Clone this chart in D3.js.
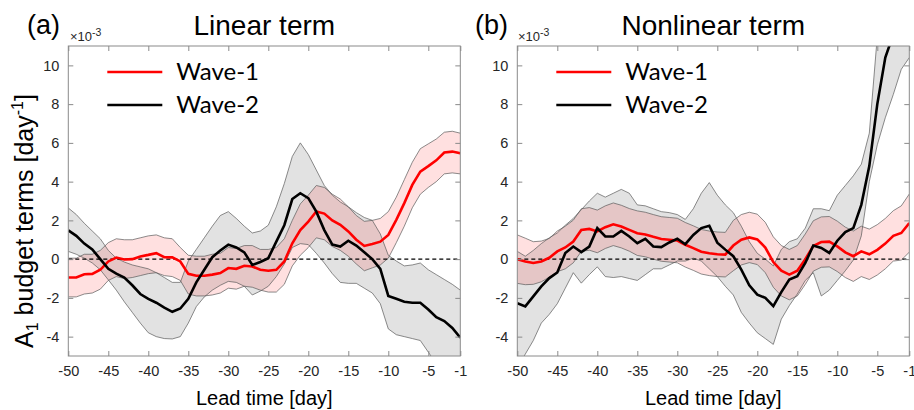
<!DOCTYPE html>
<html>
<head>
<meta charset="utf-8">
<script src="https://cdn.jsdelivr.net/npm/d3@7"></script>
<style>
  body { margin: 0; background: #fff; }
  svg { display: block; }
</style>
</head>
<body>
<main></main>
<script>
// lead days -50 .. -1
var days = d3.range(-50, 0);
var xTicks = [-50, -45, -40, -35, -30, -25, -20, -15, -10, -5, -1];
var yTicks = [-4, -2, 0, 2, 4, 6, 8, 10];
var seriesNames = ['Wave-1', 'Wave-2'];

// (a) linear term, units of 1e-3 day^-1
var linW1   = [-0.95,-0.95,-0.78,-0.76,-0.55,-0.12,0.08,-0.02,0.0,0.14,0.22,0.31,0.1,0.09,-0.12,-0.76,-0.86,-0.86,-0.8,-0.72,-0.46,-0.5,-0.34,-0.38,-0.55,-0.6,-0.55,-0.12,0.82,1.5,1.94,2.46,2.35,2.0,1.77,1.43,1.0,0.68,0.78,0.9,1.25,2.03,2.89,3.83,4.52,4.8,5.1,5.5,5.55,5.46];
var linW1Lo = [-1.95,-1.95,-1.8,-1.75,-1.55,-1.1,-0.9,-1.0,-0.95,-0.85,-0.75,-0.7,-0.85,-0.9,-1.1,-1.8,-1.9,-1.9,-1.85,-1.75,-1.5,-1.55,-1.4,-1.45,-1.6,-1.7,-1.7,-1.3,-0.35,0.2,0.6,1.1,1.0,0.65,0.45,0.15,-0.25,-0.6,-0.45,-0.3,0.05,0.85,1.7,2.65,3.35,3.7,4.0,4.4,4.45,4.4];
var linW1Hi = [0.05,0.05,0.25,0.25,0.45,0.85,1.05,1.0,1.0,1.1,1.2,1.25,1.1,1.05,0.6,0.2,0.15,0.15,0.25,0.3,0.6,0.55,0.7,0.7,0.5,0.5,0.6,1.05,2.0,2.85,3.3,3.8,3.7,3.35,3.1,2.7,2.25,1.95,2.0,2.1,2.45,3.2,4.1,5.0,5.7,5.95,6.2,6.55,6.6,6.5];
var linW2   = [1.48,1.2,0.8,0.5,0.0,-0.5,-0.75,-0.95,-1.35,-1.8,-2.05,-2.25,-2.5,-2.72,-2.55,-2.05,-1.2,-0.55,0.1,0.45,0.75,0.6,0.35,-0.3,-0.15,0.05,0.9,1.75,3.1,3.4,3.15,2.45,1.5,0.75,0.65,0.95,0.7,0.35,0.0,-0.5,-1.9,-2.05,-2.2,-2.25,-2.25,-2.6,-3.0,-3.2,-3.55,-4.05];
var linW2Lo = [0.4,0.25,0.05,-0.2,-0.55,-1.07,-1.6,-2.2,-2.75,-3.3,-3.8,-4.0,-4.1,-4.12,-4.0,-3.3,-2.45,-1.95,-1.6,-1.35,-1.15,-1.2,-1.4,-1.85,-1.65,-1.4,-0.9,-0.25,0.6,0.8,0.75,0.3,-0.2,-0.75,-1.2,-1.25,-1.25,-1.5,-1.75,-2.3,-3.6,-3.9,-4.0,-4.1,-4.2,-4.8,-5.4,-5.8,-6.2,-6.5];
var linW2Hi = [2.64,2.3,1.85,1.45,1.05,0.45,0.05,-0.15,-0.3,-0.4,-0.5,-0.7,-0.95,-1.2,-1.2,-0.1,0.5,1.1,1.7,2.25,2.45,2.1,1.7,1.35,1.45,1.75,2.7,3.9,5.3,6.0,5.4,4.6,3.8,3.3,2.95,2.7,2.4,2.15,2.0,1.3,0.2,-0.1,-0.35,-0.3,-0.2,-0.55,-0.8,-1.05,-1.3,-1.6];

// (b) nonlinear term
var nonW1   = [0.0,-0.12,-0.2,-0.12,0.07,0.4,0.6,0.91,1.5,1.56,1.43,1.65,1.8,1.68,1.51,1.34,1.27,1.15,1.04,1.0,0.96,0.74,0.57,0.38,0.3,0.25,0.23,0.7,1.0,1.12,1.02,0.6,-0.15,-0.6,-0.8,-0.6,0.0,0.68,0.88,0.9,0.66,0.35,0.15,0.4,0.25,0.48,0.8,1.2,1.35,1.86];
var nonW1Lo = [-1.25,-1.32,-1.3,-1.17,-0.93,-0.65,-0.5,-0.19,0.4,0.46,0.33,0.55,0.7,0.58,0.41,0.19,0.12,0.0,-0.11,-0.15,-0.19,-0.41,-0.58,-0.77,-0.85,-0.9,-0.92,-0.6,-0.3,-0.18,-0.28,-0.7,-1.45,-1.9,-2.1,-1.9,-1.3,-0.62,-0.42,-0.4,-0.64,-0.95,-1.15,-0.9,-1.05,-0.82,-0.5,-0.1,-0.05,0.36];
var nonW1Hi = [1.25,1.08,0.9,0.93,1.07,1.45,1.7,2.01,2.6,2.66,2.53,2.75,2.9,2.78,2.61,2.49,2.42,2.3,2.19,2.15,2.11,1.89,1.72,1.53,1.45,1.4,1.38,2.0,2.3,2.42,2.32,1.9,1.15,0.7,0.5,0.7,1.3,1.98,2.18,2.2,1.96,1.65,1.45,1.7,1.55,1.78,2.1,2.5,2.75,3.36];
var nonW2   = [-2.27,-2.44,-1.92,-1.41,-0.98,-0.69,0.31,0.65,0.36,0.65,1.6,1.17,1.17,1.46,1.17,0.82,1.05,0.65,0.62,0.86,1.05,0.77,1.25,1.6,1.72,0.85,0.49,0.15,-0.54,-1.35,-1.83,-2.0,-2.43,-1.7,-1.05,-0.88,-0.2,0.7,0.58,0.32,0.95,1.4,1.6,2.8,4.8,8.0,10.4,11.6,12.9,14.2];
var nonW2Lo = [-5.6,-4.9,-4.2,-3.3,-2.85,-2.3,-1.5,-0.7,-1.24,-0.8,-0.4,-0.9,-0.95,-0.9,-1.0,-1.1,-0.8,-0.5,-0.5,-0.3,-0.1,-0.1,0.05,-0.1,-0.5,-0.9,-1.4,-1.85,-2.75,-3.3,-3.8,-4.1,-4.4,-3.1,-2.4,-1.8,-1.1,-0.7,-1.9,-1.6,-1.1,-0.6,-0.05,1.2,4.0,5.9,7.3,8.5,9.8,10.4];
var nonW2Hi = [0.4,0.15,0.45,0.8,1.1,1.35,1.75,2.1,2.55,3.0,3.4,3.2,3.4,3.6,3.4,2.8,2.75,2.6,2.45,2.4,2.3,2.05,2.6,3.4,3.95,3.3,2.8,2.4,1.7,0.9,0.3,0.0,-0.35,0.5,0.9,1.05,1.6,2.6,2.6,2.5,3.3,3.8,4.3,4.9,6.5,11.5,14,16,18,20];

var W = 914, H = 410;
var plotTop = 46, plotBottom = 356;
var font = "'Liberation Sans', Arial, sans-serif";
var plain = function(d) { return String(d); };

var svg = d3.select('main').append('svg')
    .attr('width', W)
    .attr('height', H);

var yScale = d3.scaleLinear().domain([-5, 11]).range([plotBottom, plotTop]);

var panels = [
    { id: 'a', left: 68.3, right: 460.3, title: 'Linear term', tag: '(a)', tagX: 27, sciX: 70,
      w1: linW1, w1Lo: linW1Lo, w1Hi: linW1Hi, w2: linW2, w2Lo: linW2Lo, w2Hi: linW2Hi },
    { id: 'b', left: 517.3, right: 909.3, title: 'Nonlinear term', tag: '(b)', tagX: 475, sciX: 518,
      w1: nonW1, w1Lo: nonW1Lo, w1Hi: nonW1Hi, w2: nonW2, w2Lo: nonW2Lo, w2Hi: nonW2Hi }
];

panels.forEach(function(p) {
    var xScale = d3.scaleLinear().domain([-50, -1]).range([p.left, p.right]);
    var g = svg.append('g');

    g.append('clipPath').attr('id', 'clip-' + p.id)
        .append('rect')
        .attr('x', p.left).attr('y', plotTop)
        .attr('width', p.right - p.left).attr('height', plotBottom - plotTop);

    var plot = g.append('g').attr('clip-path', 'url(#clip-' + p.id + ')');

    var area = function(lo, hi) {
        return d3.area()
            .x(function(d, i) { return xScale(days[i]); })
            .y0(function(d, i) { return yScale(lo[i]); })
            .y1(function(d, i) { return yScale(hi[i]); })(days);
    };
    var line = function(vals) {
        return d3.line()
            .x(function(d, i) { return xScale(days[i]); })
            .y(function(d) { return yScale(d); })(vals);
    };

    // bands
    plot.append('path').attr('d', area(p.w2Lo, p.w2Hi))
        .attr('fill', 'rgba(128,128,128,0.23)').attr('stroke', 'none');
    plot.append('path').attr('d', area(p.w1Lo, p.w1Hi))
        .attr('fill', 'rgba(255,0,0,0.12)').attr('stroke', 'none');
    [p.w2Lo, p.w2Hi, p.w1Lo, p.w1Hi].forEach(function(b) {
        plot.append('path').attr('d', line(b))
            .attr('fill', 'none').attr('stroke', '#5a5a5a').attr('stroke-width', 0.7);
    });

    // zero line
    plot.append('line')
        .attr('x1', p.left).attr('x2', p.right)
        .attr('y1', yScale(0)).attr('y2', yScale(0))
        .attr('stroke', '#000').attr('stroke-width', 1.2)
        .attr('stroke-dasharray', '4,3');

    plot.append('path').attr('d', line(p.w1))
        .attr('fill', 'none').attr('stroke', '#ff0000').attr('stroke-width', 2.6);
    plot.append('path').attr('d', line(p.w2))
        .attr('fill', 'none').attr('stroke', '#000').attr('stroke-width', 2.6);

    // axes, ticks inward
    g.append('g')
        .attr('transform', 'translate(0,' + plotBottom + ')')
        .call(d3.axisBottom(xScale).tickValues(xTicks).tickFormat(plain)
            .tickSize(-5).tickSizeOuter(0).tickPadding(10));
    g.append('g')
        .attr('transform', 'translate(0,' + plotTop + ')')
        .call(d3.axisTop(xScale).tickValues(xTicks).tickSize(-5).tickSizeOuter(0).tickFormat(''));
    g.append('g')
        .attr('transform', 'translate(' + p.left + ',0)')
        .call(d3.axisLeft(yScale).tickValues(yTicks).tickFormat(plain)
            .tickSize(-5).tickSizeOuter(0).tickPadding(9));
    g.append('g')
        .attr('transform', 'translate(' + p.right + ',0)')
        .call(d3.axisRight(yScale).tickValues(yTicks).tickSize(-5).tickSizeOuter(0).tickFormat(''));

    g.selectAll('.domain').remove();
    g.selectAll('.tick line').attr('stroke', '#8a8a8a');
    g.selectAll('.tick text')
        .attr('fill', '#262626')
        .style('font-family', font)
        .style('font-size', '14.5px');

    g.append('rect')
        .attr('x', p.left).attr('y', plotTop)
        .attr('width', p.right - p.left).attr('height', plotBottom - plotTop)
        .attr('fill', 'none').attr('stroke', '#8a8a8a').attr('stroke-width', 1);

    // titles
    var cx = (p.left + p.right) / 2;
    g.append('text').attr('x', cx).attr('y', 35)
        .attr('text-anchor', 'middle')
        .style('font-family', font).style('font-size', '28px')
        .text(p.title);
    g.append('text').attr('x', p.tagX).attr('y', 34)
        .style('font-family', font).style('font-size', '27px')
        .text(p.tag);
    var sci = g.append('text').attr('x', p.sciX).attr('y', 41)
        .attr('fill', '#262626')
        .style('font-family', font).style('font-size', '13px');
    sci.append('tspan').text('\u00d710');
    sci.append('tspan').attr('dy', -5).style('font-size', '10.5px').text('-3');

    g.append('text').attr('x', cx).attr('y', 405)
        .attr('text-anchor', 'middle')
        .style('font-family', font).style('font-size', '20px')
        .text('Lead time [day]');

    // legend
    var lx = p.left + 39;
    var colors = ['#ff0000', '#000'];
    seriesNames.forEach(function(name, i) {
        var ly = 72 + i * 33;
        g.append('line')
            .attr('x1', lx).attr('x2', lx + 55)
            .attr('y1', ly).attr('y2', ly)
            .attr('stroke', colors[i]).attr('stroke-width', 2.6);
        g.append('text').attr('x', lx + 69).attr('y', ly + 8)
            .style('font-family', "Lato, 'Open Sans', sans-serif").style('font-size', '24px')
            .text(name);
    });
});

// y label
var ylab = svg.append('text')
    .attr('transform', 'translate(33,221) rotate(-90)')
    .attr('text-anchor', 'middle')
    .style('font-family', font).style('font-size', '25px');
ylab.append('tspan').text('A');
ylab.append('tspan').attr('dy', 5).style('font-size', '16px').text('1');
ylab.append('tspan').attr('dy', -5).text(' budget terms [day');
ylab.append('tspan').attr('dy', -10).style('font-size', '16px').text('-1');
ylab.append('tspan').attr('dy', 10).text(']');
</script>
</body>
</html>
